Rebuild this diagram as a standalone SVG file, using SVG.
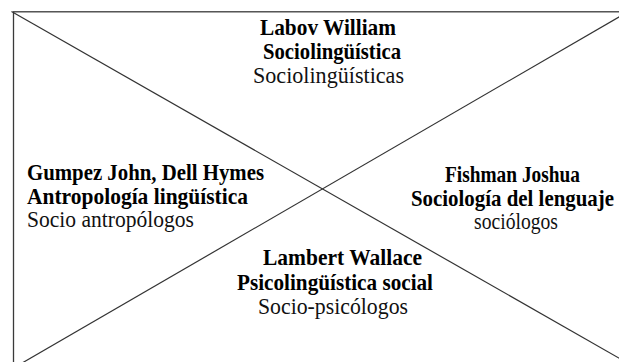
<svg xmlns="http://www.w3.org/2000/svg" width="619" height="362" viewBox="0 0 619 362">
  <style>
    .frame { fill: none; stroke: #3a3a3a; stroke-width: 1.3; }
    .diag { stroke: #333; stroke-width: 1.2; fill: none; }
    text { font-family: "Liberation Serif", "Times New Roman", serif; font-size: 23px; fill: #000; }
    .b { font-weight: bold; }
    .r { fill: #111; }
  </style>
  <rect width="619" height="362" fill="#fff"/>

  <!-- outer box (right and bottom edges run past the canvas) and the two diagonals -->
  <g id="connectors">
    <rect class="frame" x="13.5" y="11.8" width="620" height="370"/>
    <line class="diag" x1="11.5" y1="11.5" x2="625" y2="361.5"/>
    <line class="diag" x1="625" y1="13.5" x2="13.5" y2="368"/>
  </g>

  <g id="top">
    <text class="b" x="260" y="35" textLength="136" lengthAdjust="spacingAndGlyphs">Labov William</text>
    <text class="b" x="263" y="59" textLength="138" lengthAdjust="spacingAndGlyphs">Sociolingüística</text>
    <text class="r" x="253" y="83" textLength="151" lengthAdjust="spacingAndGlyphs">Sociolingüísticas</text>
  </g>

  <g id="left">
    <text class="b" x="27" y="180" textLength="237" lengthAdjust="spacingAndGlyphs">Gumpez John, Dell Hymes</text>
    <text class="b" x="27" y="204" textLength="221" lengthAdjust="spacingAndGlyphs">Antropología lingüística</text>
    <text class="r" x="27" y="227" textLength="167" lengthAdjust="spacingAndGlyphs">Socio antropólogos</text>
  </g>

  <g id="right">
    <text class="b" x="445" y="182" textLength="135" lengthAdjust="spacingAndGlyphs">Fishman Joshua</text>
    <text class="b" x="411" y="206" textLength="203" lengthAdjust="spacingAndGlyphs">Sociología del lenguaje</text>
    <text class="r" x="474" y="229" textLength="84" lengthAdjust="spacingAndGlyphs">sociólogos</text>
  </g>

  <g id="bottom">
    <text class="b" x="263" y="265" textLength="159" lengthAdjust="spacingAndGlyphs">Lambert Wallace</text>
    <text class="b" x="237" y="290" textLength="196" lengthAdjust="spacingAndGlyphs">Psicolingüística social</text>
    <text class="r" x="258" y="314" textLength="150" lengthAdjust="spacingAndGlyphs">Socio-psicólogos</text>
  </g>
</svg>
